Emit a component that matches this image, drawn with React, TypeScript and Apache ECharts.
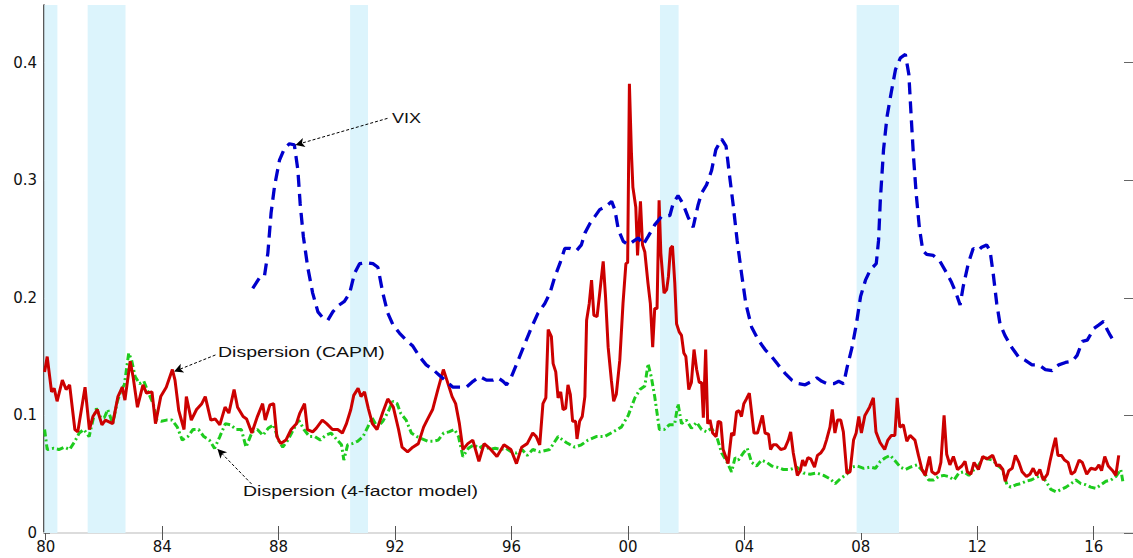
import React, { useEffect, useRef } from "react";
import * as echarts from "echarts";

// ---- data (year, value) ----
const capmDispersion: [number, number][] = [
  [1979.96, 0.137], [1980.05, 0.15], [1980.2, 0.12], [1980.29, 0.123], [1980.39, 0.112], [1980.57, 0.13], [1980.7, 0.122], [1980.82, 0.126],
  [1981.0, 0.088], [1981.1, 0.086], [1981.35, 0.124], [1981.5, 0.088], [1981.62, 0.099], [1981.77, 0.105], [1981.93, 0.092], [1982.05, 0.096],
  [1982.3, 0.093], [1982.48, 0.116], [1982.63, 0.124], [1982.72, 0.113], [1982.9, 0.146], [1983.0, 0.133], [1983.15, 0.107], [1983.34, 0.126],
  [1983.46, 0.119], [1983.65, 0.12], [1983.77, 0.093], [1983.95, 0.116], [1984.14, 0.124], [1984.35, 0.139], [1984.44, 0.13], [1984.57, 0.104],
  [1984.75, 0.088], [1984.83, 0.116], [1985.0, 0.096], [1985.18, 0.105], [1985.36, 0.11], [1985.48, 0.116], [1985.67, 0.096], [1985.82, 0.097],
  [1985.98, 0.092], [1986.16, 0.107], [1986.29, 0.102], [1986.47, 0.122], [1986.59, 0.107], [1986.78, 0.099], [1986.9, 0.097], [1987.08, 0.085],
  [1987.27, 0.099], [1987.45, 0.11], [1987.54, 0.096], [1987.7, 0.109], [1987.83, 0.11], [1987.94, 0.082], [1988.07, 0.076], [1988.25, 0.079],
  [1988.43, 0.088], [1988.61, 0.093], [1988.73, 0.102], [1988.89, 0.11], [1988.99, 0.088], [1989.17, 0.086], [1989.29, 0.089], [1989.5, 0.096],
  [1989.65, 0.093], [1989.85, 0.088], [1990.03, 0.088], [1990.19, 0.085], [1990.33, 0.093], [1990.48, 0.105], [1990.58, 0.117], [1990.73, 0.123],
  [1990.83, 0.116], [1990.95, 0.12], [1991.08, 0.106], [1991.22, 0.093], [1991.38, 0.088], [1991.57, 0.102], [1991.75, 0.114], [1991.94, 0.107],
  [1992.12, 0.088], [1992.24, 0.073], [1992.43, 0.069], [1992.61, 0.073], [1992.8, 0.076], [1992.98, 0.09], [1993.1, 0.096], [1993.29, 0.105],
  [1993.47, 0.122], [1993.66, 0.139], [1993.78, 0.13], [1993.96, 0.116], [1994.08, 0.11], [1994.21, 0.093], [1994.33, 0.071], [1994.5, 0.076],
  [1994.67, 0.079], [1994.88, 0.061], [1995.06, 0.076], [1995.25, 0.072], [1995.5, 0.065], [1995.74, 0.075], [1995.98, 0.071], [1996.17, 0.059],
  [1996.35, 0.073], [1996.54, 0.076], [1996.73, 0.085], [1996.85, 0.082], [1996.97, 0.075], [1997.08, 0.11], [1997.18, 0.115], [1997.26, 0.173],
  [1997.37, 0.167], [1997.43, 0.144], [1997.52, 0.137], [1997.6, 0.115], [1997.69, 0.12], [1997.77, 0.105], [1997.86, 0.106], [1997.94, 0.126],
  [1998.02, 0.118], [1998.1, 0.095], [1998.2, 0.095], [1998.25, 0.08], [1998.34, 0.095], [1998.43, 0.099], [1998.52, 0.116], [1998.58, 0.181],
  [1998.67, 0.195], [1998.75, 0.215], [1998.83, 0.185], [1998.94, 0.184], [1999.03, 0.204], [1999.15, 0.231], [1999.23, 0.201], [1999.32, 0.158],
  [1999.43, 0.13], [1999.51, 0.112], [1999.6, 0.118], [1999.72, 0.147], [1999.83, 0.195], [1999.93, 0.229], [1999.99, 0.23], [2000.05, 0.382],
  [2000.12, 0.323], [2000.17, 0.294], [2000.27, 0.277], [2000.33, 0.236], [2000.43, 0.282], [2000.5, 0.245], [2000.58, 0.239], [2000.69, 0.212],
  [2000.77, 0.195], [2000.85, 0.158], [2000.92, 0.191], [2001.0, 0.191], [2001.07, 0.283], [2001.13, 0.238], [2001.24, 0.204], [2001.33, 0.207],
  [2001.39, 0.218], [2001.46, 0.242], [2001.53, 0.244], [2001.61, 0.212], [2001.67, 0.178], [2001.76, 0.171], [2001.84, 0.168], [2001.92, 0.153],
  [2001.99, 0.15], [2002.09, 0.122], [2002.18, 0.128], [2002.27, 0.156], [2002.36, 0.139], [2002.45, 0.128], [2002.53, 0.128], [2002.59, 0.098],
  [2002.67, 0.156], [2002.74, 0.093], [2002.82, 0.096], [2002.91, 0.085], [2003.03, 0.082], [2003.1, 0.095], [2003.19, 0.094], [2003.27, 0.071],
  [2003.44, 0.059], [2003.56, 0.085], [2003.64, 0.083], [2003.73, 0.103], [2003.82, 0.104], [2003.9, 0.099], [2003.98, 0.11], [2004.07, 0.114],
  [2004.17, 0.119], [2004.25, 0.102], [2004.33, 0.085], [2004.45, 0.085], [2004.54, 0.093], [2004.62, 0.1], [2004.71, 0.085], [2004.83, 0.084],
  [2004.9, 0.071], [2004.99, 0.075], [2005.1, 0.075], [2005.25, 0.071], [2005.39, 0.072], [2005.51, 0.079], [2005.59, 0.086], [2005.68, 0.068],
  [2005.82, 0.049], [2005.92, 0.053], [2006.0, 0.062], [2006.08, 0.057], [2006.18, 0.064], [2006.28, 0.063], [2006.41, 0.056], [2006.51, 0.066],
  [2006.62, 0.068], [2006.73, 0.072], [2006.82, 0.079], [2006.94, 0.09], [2007.02, 0.105], [2007.11, 0.085], [2007.2, 0.096], [2007.31, 0.096],
  [2007.4, 0.086], [2007.52, 0.051], [2007.63, 0.052], [2007.75, 0.079], [2007.84, 0.085], [2007.93, 0.099], [2008.02, 0.085], [2008.14, 0.1],
  [2008.3, 0.107], [2008.43, 0.115], [2008.52, 0.086], [2008.66, 0.077], [2008.82, 0.071], [2008.93, 0.079], [2009.05, 0.083], [2009.17, 0.083],
  [2009.25, 0.115], [2009.34, 0.09], [2009.46, 0.092], [2009.58, 0.078], [2009.69, 0.083], [2009.86, 0.079], [2009.98, 0.066], [2010.1, 0.054],
  [2010.21, 0.049], [2010.36, 0.065], [2010.44, 0.052], [2010.56, 0.05], [2010.67, 0.052], [2010.75, 0.06], [2010.86, 0.1], [2010.95, 0.067],
  [2011.06, 0.058], [2011.18, 0.065], [2011.32, 0.054], [2011.47, 0.057], [2011.58, 0.061], [2011.66, 0.052], [2011.78, 0.05], [2011.89, 0.06],
  [2012.04, 0.054], [2012.19, 0.065], [2012.33, 0.063], [2012.53, 0.066], [2012.67, 0.057], [2012.76, 0.058], [2012.88, 0.054], [2012.96, 0.044],
  [2013.08, 0.053], [2013.2, 0.055], [2013.31, 0.066], [2013.43, 0.06], [2013.54, 0.052], [2013.69, 0.048], [2013.81, 0.05], [2013.92, 0.055],
  [2014.04, 0.049], [2014.15, 0.054], [2014.27, 0.045], [2014.41, 0.05], [2014.5, 0.061], [2014.6, 0.072], [2014.69, 0.081], [2014.77, 0.066],
  [2014.89, 0.066], [2015.0, 0.062], [2015.12, 0.06], [2015.23, 0.05], [2015.35, 0.052], [2015.5, 0.062], [2015.61, 0.06], [2015.76, 0.05],
  [2015.9, 0.055], [2016.07, 0.054], [2016.18, 0.058], [2016.27, 0.053], [2016.38, 0.065], [2016.5, 0.057], [2016.65, 0.053], [2016.76, 0.049],
  [2016.86, 0.066],
];

const fourFactorDispersion: [number, number][] = [
  [1979.96, 0.088], [1980.05, 0.071], [1980.27, 0.072], [1980.45, 0.071], [1980.64, 0.073], [1980.82, 0.071], [1981.0, 0.078], [1981.15, 0.085],
  [1981.31, 0.088], [1981.49, 0.082], [1981.62, 0.096], [1981.74, 0.106], [1981.89, 0.098], [1982.01, 0.098], [1982.13, 0.105], [1982.3, 0.093],
  [1982.46, 0.112], [1982.6, 0.122], [1982.7, 0.126], [1982.85, 0.153], [1982.95, 0.147], [1983.07, 0.133], [1983.22, 0.127], [1983.37, 0.129],
  [1983.53, 0.119], [1983.69, 0.11], [1983.82, 0.096], [1983.97, 0.095], [1984.15, 0.096], [1984.34, 0.096], [1984.52, 0.09], [1984.69, 0.079],
  [1984.88, 0.082], [1985.06, 0.088], [1985.25, 0.088], [1985.43, 0.082], [1985.62, 0.079], [1985.8, 0.072], [1985.98, 0.082], [1986.17, 0.093],
  [1986.35, 0.092], [1986.54, 0.088], [1986.72, 0.088], [1986.88, 0.073], [1987.09, 0.086], [1987.27, 0.088], [1987.46, 0.083], [1987.64, 0.089],
  [1987.83, 0.092], [1987.99, 0.079], [1988.14, 0.073], [1988.32, 0.079], [1988.51, 0.088], [1988.69, 0.096], [1988.87, 0.088], [1989.06, 0.082],
  [1989.24, 0.082], [1989.43, 0.079], [1989.61, 0.083], [1989.8, 0.085], [1989.98, 0.08], [1990.16, 0.075], [1990.24, 0.062], [1990.37, 0.075],
  [1990.53, 0.076], [1990.71, 0.078], [1990.9, 0.082], [1991.06, 0.09], [1991.21, 0.098], [1991.39, 0.09], [1991.58, 0.095], [1991.76, 0.103],
  [1991.92, 0.112], [1992.07, 0.11], [1992.19, 0.102], [1992.38, 0.096], [1992.56, 0.085], [1992.75, 0.082], [1992.93, 0.08], [1993.12, 0.078],
  [1993.3, 0.078], [1993.48, 0.079], [1993.67, 0.085], [1993.85, 0.086], [1994.04, 0.088], [1994.18, 0.082], [1994.33, 0.065], [1994.52, 0.072],
  [1994.7, 0.075], [1994.89, 0.072], [1995.07, 0.075], [1995.25, 0.071], [1995.44, 0.072], [1995.62, 0.071], [1995.81, 0.072], [1995.99, 0.069],
  [1996.17, 0.068], [1996.36, 0.071], [1996.54, 0.066], [1996.73, 0.071], [1996.97, 0.069], [1997.31, 0.071], [1997.6, 0.082], [1997.88, 0.077],
  [1998.17, 0.073], [1998.4, 0.075], [1998.63, 0.079], [1998.91, 0.082], [1999.2, 0.082], [1999.49, 0.086], [1999.77, 0.09], [2000.01, 0.1],
  [2000.24, 0.115], [2000.41, 0.122], [2000.58, 0.125], [2000.69, 0.144], [2000.8, 0.133], [2000.92, 0.116], [2001.08, 0.088], [2001.25, 0.088],
  [2001.42, 0.092], [2001.6, 0.092], [2001.72, 0.11], [2001.84, 0.093], [2002.01, 0.096], [2002.18, 0.089], [2002.36, 0.094], [2002.53, 0.088],
  [2002.7, 0.086], [2002.87, 0.089], [2003.05, 0.082], [2003.22, 0.068], [2003.39, 0.061], [2003.56, 0.052], [2003.68, 0.064], [2003.79, 0.062],
  [2003.96, 0.068], [2004.1, 0.072], [2004.25, 0.06], [2004.42, 0.057], [2004.59, 0.062], [2004.77, 0.06], [2004.94, 0.057], [2005.11, 0.056],
  [2005.34, 0.054], [2005.57, 0.054], [2005.8, 0.056], [2006.03, 0.051], [2006.26, 0.05], [2006.49, 0.051], [2006.72, 0.049], [2006.95, 0.046],
  [2007.12, 0.042], [2007.29, 0.046], [2007.52, 0.05], [2007.69, 0.056], [2007.87, 0.057], [2008.1, 0.055], [2008.33, 0.056], [2008.5, 0.055],
  [2008.67, 0.061], [2008.84, 0.064], [2009.01, 0.066], [2009.19, 0.061], [2009.36, 0.056], [2009.53, 0.054], [2009.7, 0.056], [2009.93, 0.058],
  [2010.16, 0.052], [2010.33, 0.045], [2010.5, 0.045], [2010.67, 0.048], [2010.85, 0.049], [2011.02, 0.048], [2011.2, 0.045], [2011.37, 0.051],
  [2011.54, 0.052], [2011.71, 0.049], [2011.89, 0.054], [2012.06, 0.058], [2012.21, 0.065], [2012.35, 0.063], [2012.52, 0.062], [2012.69, 0.058],
  [2012.86, 0.054], [2013.02, 0.041], [2013.15, 0.039], [2013.33, 0.041], [2013.5, 0.042], [2013.67, 0.044], [2013.84, 0.045], [2014.01, 0.047],
  [2014.19, 0.049], [2014.36, 0.044], [2014.53, 0.037], [2014.71, 0.035], [2014.88, 0.037], [2015.05, 0.039], [2015.22, 0.042], [2015.39, 0.045],
  [2015.56, 0.042], [2015.73, 0.041], [2015.9, 0.039], [2016.08, 0.038], [2016.25, 0.041], [2016.42, 0.044], [2016.59, 0.045], [2016.76, 0.048],
  [2016.93, 0.054], [2017.0, 0.044],
];

const vix: [number, number][] = [
  [1987.11, 0.208], [1987.34, 0.217], [1987.51, 0.218], [1987.63, 0.238], [1987.74, 0.272], [1987.86, 0.295], [1988.03, 0.317], [1988.2, 0.327],
  [1988.37, 0.331], [1988.54, 0.33], [1988.66, 0.309], [1988.74, 0.28], [1988.85, 0.252], [1989.0, 0.226], [1989.17, 0.204], [1989.35, 0.188],
  [1989.52, 0.183], [1989.69, 0.181], [1989.86, 0.188], [1990.03, 0.193], [1990.26, 0.197], [1990.44, 0.204], [1990.61, 0.221], [1990.78, 0.229],
  [1991.01, 0.23], [1991.24, 0.229], [1991.41, 0.226], [1991.58, 0.204], [1991.75, 0.187], [1991.93, 0.177], [1992.15, 0.17], [1992.38, 0.164],
  [1992.61, 0.159], [1992.84, 0.15], [1993.07, 0.143], [1993.3, 0.139], [1993.53, 0.134], [1993.76, 0.129], [1993.99, 0.124], [1994.22, 0.124],
  [1994.45, 0.124], [1994.68, 0.129], [1994.91, 0.133], [1995.14, 0.13], [1995.37, 0.13], [1995.54, 0.132], [1995.71, 0.129], [1995.83, 0.126],
  [1996.0, 0.133], [1996.23, 0.147], [1996.46, 0.161], [1996.69, 0.175], [1996.91, 0.187], [1997.14, 0.195], [1997.32, 0.204], [1997.49, 0.218],
  [1997.66, 0.229], [1997.83, 0.242], [1998.0, 0.242], [1998.23, 0.24], [1998.4, 0.245], [1998.52, 0.255], [1998.69, 0.263], [1998.86, 0.269],
  [1999.03, 0.275], [1999.26, 0.278], [1999.44, 0.282], [1999.55, 0.275], [1999.67, 0.258], [1999.84, 0.248], [2000.01, 0.245], [2000.18, 0.248],
  [2000.36, 0.251], [2000.52, 0.245], [2000.69, 0.252], [2000.92, 0.262], [2001.15, 0.269], [2001.44, 0.27], [2001.55, 0.28], [2001.72, 0.287],
  [2001.89, 0.28], [2002.06, 0.269], [2002.24, 0.26], [2002.41, 0.279], [2002.53, 0.289], [2002.7, 0.296], [2002.87, 0.308], [2003.02, 0.326],
  [2003.22, 0.335], [2003.37, 0.329], [2003.48, 0.306], [2003.62, 0.278], [2003.75, 0.249], [2003.9, 0.221], [2004.05, 0.195], [2004.25, 0.175],
  [2004.48, 0.164], [2004.71, 0.156], [2004.94, 0.15], [2005.16, 0.143], [2005.39, 0.136], [2005.63, 0.13], [2005.86, 0.127], [2006.09, 0.126],
  [2006.32, 0.129], [2006.49, 0.132], [2006.66, 0.129], [2006.84, 0.127], [2007.07, 0.127], [2007.24, 0.129], [2007.41, 0.127], [2007.53, 0.141],
  [2007.7, 0.158], [2007.85, 0.178], [2007.99, 0.201], [2008.16, 0.215], [2008.33, 0.224], [2008.53, 0.229], [2008.61, 0.249], [2008.67, 0.283],
  [2008.78, 0.326], [2008.9, 0.354], [2009.04, 0.374], [2009.19, 0.394], [2009.36, 0.404], [2009.53, 0.407], [2009.65, 0.39], [2009.73, 0.354],
  [2009.81, 0.32], [2009.9, 0.289], [2010.01, 0.26], [2010.13, 0.24], [2010.26, 0.237], [2010.49, 0.236], [2010.72, 0.231], [2010.95, 0.221],
  [2011.12, 0.213], [2011.27, 0.204], [2011.41, 0.194], [2011.52, 0.21], [2011.69, 0.229], [2011.86, 0.242], [2012.03, 0.24], [2012.15, 0.243],
  [2012.32, 0.245], [2012.44, 0.24], [2012.55, 0.22], [2012.67, 0.195], [2012.78, 0.178], [2012.95, 0.168], [2013.18, 0.158], [2013.41, 0.15],
  [2013.64, 0.147], [2013.88, 0.143], [2014.11, 0.143], [2014.34, 0.139], [2014.57, 0.138], [2014.8, 0.143], [2015.03, 0.145], [2015.26, 0.146],
  [2015.43, 0.151], [2015.61, 0.163], [2015.78, 0.164], [2016.01, 0.174], [2016.18, 0.177], [2016.34, 0.18], [2016.46, 0.173], [2016.57, 0.168],
  [2016.69, 0.163],
];

// tick years and value ticks
const yearTicks = [1980, 1984, 1988, 1992, 1996, 2000, 2004, 2008, 2012, 2016];
const valueTicks = [0, 0.1, 0.2, 0.3, 0.4];

// recession periods (start, end)
const recessionStarts = [1979.95, 1981.44, 1990.455, 2001.1, 2007.855];
const recessionEnds = [1980.4, 1982.74, 1991.07, 2001.74, 2009.31];

// annotation arrows: [fromYear, fromValue, toYear, toValue]
const vixArrow = [1991.74, 0.3526, 1988.58, 0.33];
const capmArrow = [1985.83, 0.1514, 1984.41, 0.1373];
const fourFactorArrow = [1987.07, 0.0417, 1985.9, 0.0714];

const X_MIN = 1979.94;
const X_MAX = 2017.35;
const Y_MAX = 0.449;

const arrowLine = (a: number[]) => [
  { coord: [a[0], a[1]] },
  { coord: [a[2], a[3]] },
];

export default function App() {
  const ref = useRef<HTMLDivElement>(null);
  useEffect(() => {
    if (!ref.current) return;
    const chart = echarts.init(ref.current, undefined, { renderer: "svg" });
    const labelFont = "DejaVu Sans";
    const annFont = "15px 'Liberation Sans', Arial, sans-serif";
    const markLineBase = {
      silent: true,
      symbol: ["none", "arrow"],
      symbolSize: [7, 9],
      label: { show: false },
      lineStyle: { color: "#000", width: 1, type: [3, 2] },
      animation: false,
    };
    chart.setOption({
      animation: false,
      backgroundColor: "#fff",
      grid: { left: 44, right: 0, top: 5, bottom: 25, containLabel: false },
      xAxis: [
        {
          type: "value",
          min: X_MIN,
          max: X_MAX,
          axisLine: { show: true, lineStyle: { color: "#333", width: 1.5 } },
          axisTick: { show: true, inside: true, length: 7, customValues: yearTicks, lineStyle: { color: "#555" } },
          splitLine: { show: false },
          axisLabel: {
            show: true,
            margin: 6,
            color: "#111",
            fontSize: 15,
            fontFamily: labelFont,
            customValues: yearTicks,
            formatter: (v: number) => String(Math.round(v) % 100).padStart(2, "0"),
          },
        },
        {
          type: "value",
          position: "top",
          min: X_MIN,
          max: X_MAX,
          axisLine: { show: true, lineStyle: { color: "#dcdcdc", width: 2 } },
          axisTick: { show: true, inside: true, length: 7, customValues: yearTicks, lineStyle: { color: "#555" } },
          axisLabel: { show: false },
          splitLine: { show: false },
        },
      ],
      yAxis: [
        {
          type: "value",
          min: 0,
          max: Y_MAX,
          axisLine: { show: true, lineStyle: { color: "#222", width: 1.5 } },
          axisTick: { show: true, inside: true, length: 6, customValues: valueTicks, lineStyle: { color: "#777" } },
          splitLine: { show: false },
          axisLabel: {
            margin: 7,
            color: "#111",
            fontSize: 15,
            fontFamily: labelFont,
            customValues: valueTicks,
            formatter: (v: number) => (v === 0 ? "0" : v.toFixed(1)),
          },
        },
        {
          type: "value",
          position: "right",
          min: 0,
          max: Y_MAX,
          axisLine: { show: false },
          axisTick: { show: true, inside: true, length: 9, customValues: valueTicks, lineStyle: { color: "#666" } },
          axisLabel: { show: false },
          splitLine: { show: false },
        },
      ],
      series: [
        {
          name: "Recessions",
          type: "line",
          data: [],
          silent: true,
          z: 0,
          markArea: {
            silent: true,
            itemStyle: { color: "#dcf4fc" },
            data: recessionStarts.map((s, i) => [{ xAxis: s }, { xAxis: recessionEnds[i] }]),
          },
        },
        {
          name: "Dispersion (4-factor model)",
          type: "line",
          data: fourFactorDispersion,
          showSymbol: false,
          z: 2,
          lineStyle: { color: "#1ecb1e", width: 3, type: [7, 3, 2, 3] },
          markLine: { ...markLineBase, data: [arrowLine(fourFactorArrow)] },
        },
        {
          name: "Dispersion (CAPM)",
          type: "line",
          data: capmDispersion,
          showSymbol: false,
          z: 3,
          lineStyle: { color: "#cc0000", width: 3 },
          markLine: { ...markLineBase, data: [arrowLine(capmArrow)] },
        },
        {
          name: "VIX",
          type: "line",
          data: vix,
          showSymbol: false,
          z: 4,
          lineStyle: { color: "#0000cc", width: 3.3, type: [12, 7] },
          markLine: { ...markLineBase, data: [arrowLine(vixArrow)] },
        },
      ],
      graphic: [
        {
          type: "text",
          x: 392,
          y: 118,
          z: 100,
          scaleX: 1.2,
          silent: true,
          style: { text: "VIX", font: annFont, fill: "#111", textVerticalAlign: "middle" },
        },
        {
          type: "text",
          x: 218,
          y: 352,
          z: 100,
          scaleX: 1.3,
          silent: true,
          style: { text: "Dispersion (CAPM)", font: annFont, fill: "#111", textVerticalAlign: "middle" },
        },
        {
          type: "text",
          x: 243,
          y: 491,
          z: 100,
          scaleX: 1.3,
          silent: true,
          style: { text: "Dispersion (4-factor model)", font: annFont, fill: "#111", textVerticalAlign: "middle" },
        },
      ],
    });
    return () => chart.dispose();
  }, []);
  return (
    <div
      ref={ref}
      style={{ position: "fixed", left: 0, top: 0, width: 1133, height: 558, background: "#fff" }}
    />
  );
}
